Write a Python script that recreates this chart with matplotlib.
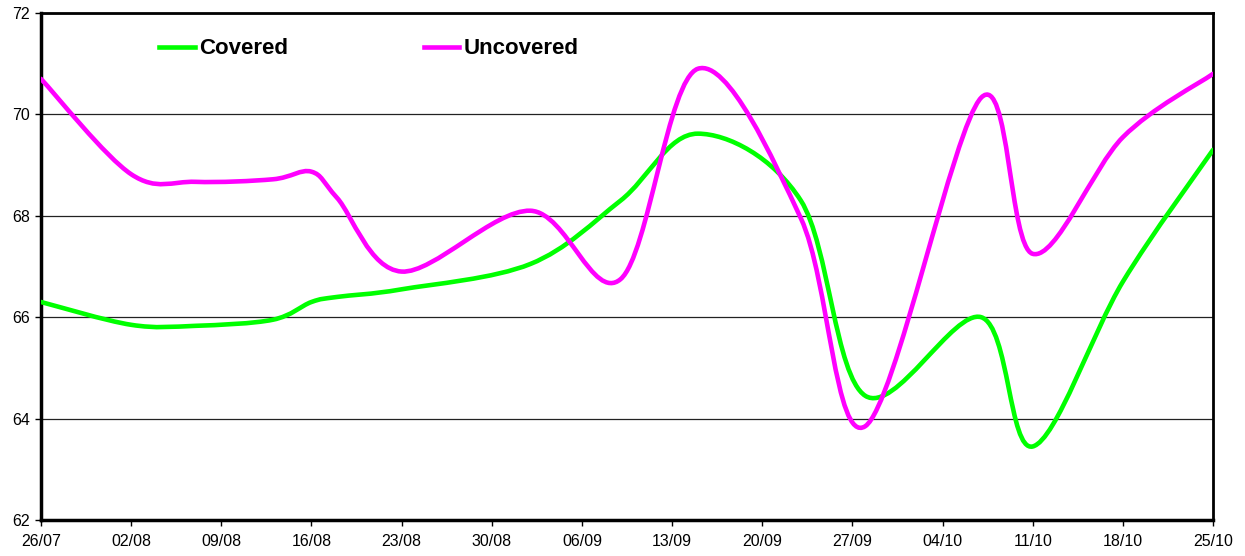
import numpy as np
import matplotlib.pyplot as plt
from matplotlib.path import Path
from matplotlib.patches import PathPatch
from matplotlib.lines import Line2D

plt.rcParams['font.family'] = ['Liberation Sans', 'DejaVu Sans']

# measurement days, counted from 26/07
days = [0, 7, 12, 18, 21, 23, 28, 38, 45, 51, 59, 64, 73, 77, 84, 91]
covered = [66.3, 65.85, 65.83, 65.95, 66.3, 66.4, 66.55, 67.05, 68.3, 69.62,
           68.3, 64.45, 66.0, 63.45, 66.7, 69.3]
uncovered = [70.7, 68.82, 68.67, 68.72, 68.87, 68.35, 66.9, 68.1, 66.75, 70.9,
             67.95, 63.85, 70.33, 67.25, 69.55, 70.8]

tick_labels = ['26/07', '02/08', '09/08', '16/08', '23/08', '30/08', '06/09',
               '13/09', '20/09', '27/09', '04/10', '11/10', '18/10', '25/10']


def smooth_path(x, y):
    # bezier curve through every point, like a spreadsheet "smoothed line"
    p = np.column_stack([x, y]).astype(float)
    p = np.vstack([p[0], p, p[-1]])
    verts = [p[1]]
    codes = [Path.MOVETO]
    for i in range(1, len(p) - 2):
        c1 = p[i] + (p[i + 1] - p[i - 1]) / 6.0
        c2 = p[i + 1] - (p[i + 2] - p[i]) / 6.0
        verts += [c1, c2, p[i + 1]]
        codes += [Path.CURVE4] * 3
    return Path(verts, codes)


fig = plt.figure(figsize=(12.45, 5.56), dpi=100)
ax = fig.add_axes([41 / 1245, 1 - 520 / 556, (1213 - 41) / 1245, (520 - 13) / 556])

for vals, col in [(covered, '#00ff00'), (uncovered, '#ff00ff')]:
    ax.add_patch(PathPatch(smooth_path(days, vals), facecolor='none',
                           edgecolor=col, lw=3.3, capstyle='round',
                           joinstyle='round', zorder=3))

ax.set_xlim(0, 91)
ax.set_ylim(62, 72)
ax.set_xticks(np.arange(0, 92, 7))
ax.set_xticklabels(tick_labels)
ax.set_yticks(np.arange(62, 73, 2))
ax.yaxis.grid(True, color='#222222', lw=0.9)
ax.set_axisbelow(True)
ax.tick_params(axis='both', direction='out', length=4, width=1,
               labelsize=11.5)
ax.tick_params(axis='x', pad=6)
ax.tick_params(axis='y', pad=4)

for s in ['left', 'bottom']:
    ax.spines[s].set_linewidth(2.5)
for s in ['top', 'right']:
    ax.spines[s].set_linewidth(2)

handles = [Line2D([], [], color='#00ff00', lw=3.3),
           Line2D([], [], color='#ff00ff', lw=3.3)]
ax.legend(handles, ['Covered', 'Uncovered'], ncol=2, frameon=False,
          loc='center left', bbox_to_anchor=(118 / 1172, 471 / 507),
          prop={'weight': 'bold', 'size': 16}, handlelength=1.6,
          handletextpad=0.2, columnspacing=6.1, borderpad=0,
          borderaxespad=0)

fig.savefig('out.png', dpi=100)
